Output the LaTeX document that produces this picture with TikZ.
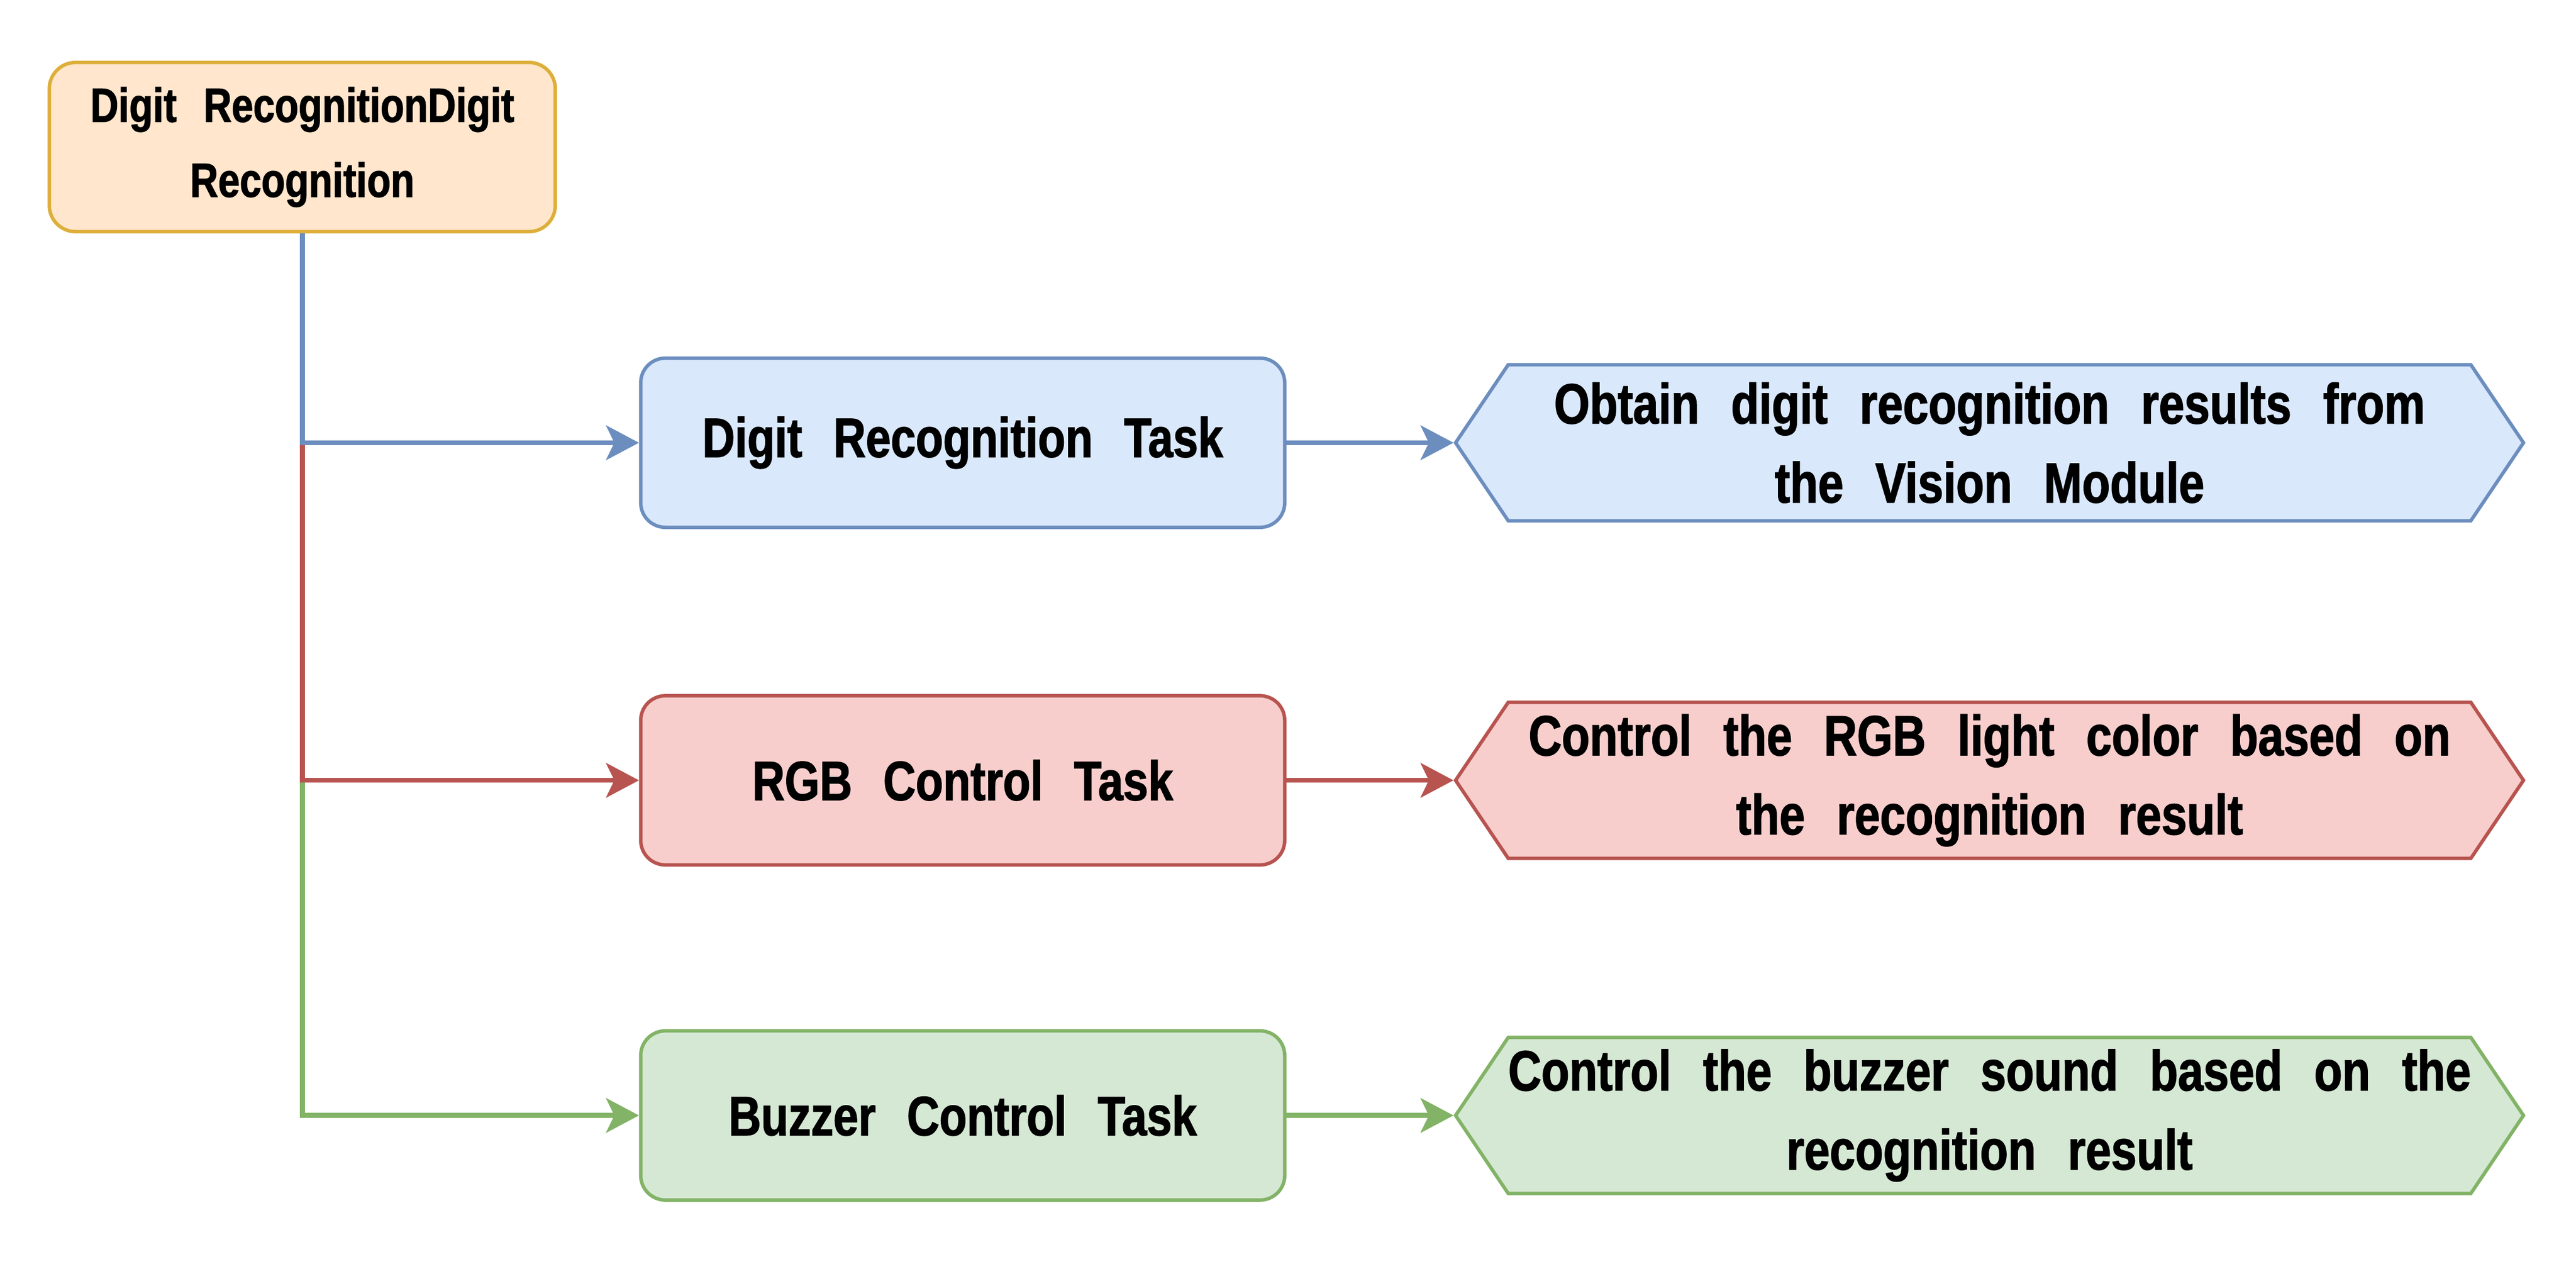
\documentclass[tikz,border=0pt]{standalone}
\usepackage{fontspec}
\setmainfont{Liberation Sans}[FakeStretch=0.81,FakeBold=1.5,WordSpace=2.5]
\usetikzlibrary{arrows.meta,shapes.symbols}

\definecolor{startfill}{HTML}{FFE6CC}
\definecolor{startline}{HTML}{DDAF3A}
\definecolor{bluefill}{HTML}{DAE8FC}
\definecolor{blueline}{HTML}{6C8EBF}
\definecolor{redfill}{HTML}{F8CECC}
\definecolor{redline}{HTML}{B85450}
\definecolor{greenfill}{HTML}{D5E8D4}
\definecolor{greenline}{HTML}{82B366}

\tikzset{
  taskbox/.style={rounded corners=0.15cm, minimum width=3.92cm, minimum height=1.03cm,
    line width=0.6pt, align=center, font=\fontsize{9.6}{13.7}\selectfont\bfseries},
  resbox/.style={signal, signal to=east and west, signal pointer angle=112,
    minimum width=6.5cm, minimum height=0.95cm, inner sep=0pt, line width=0.6pt,
    align=center, font=\fontsize{9.8}{13.7}\selectfont\bfseries},
  blue/.style={draw=blueline, fill=bluefill},
  red/.style={draw=redline, fill=redfill},
  green/.style={draw=greenline, fill=greenfill},
  link/.style={line width=0.85pt, -{Stealth[length=0.2cm,width=0.21cm,inset=0.05cm]}},
}

\begin{document}
\begin{tikzpicture}[y=-1cm]
  \useasboundingbox (0,0) rectangle (15.68,7.755);

  % start
  \node[taskbox, minimum width=3.08cm, rounded corners=0.16cm, draw=startline, fill=startfill,
    font=\fontsize{8.3}{13}\selectfont\bfseries] (start) at (1.84,0.895)
    {\raisebox{-0.4mm}{Digit RecognitionDigit}\\\raisebox{-0.4mm}{Recognition}};

  % tasks
  \node[taskbox, blue]  (task1) at (5.86,2.695) {Digit Recognition Task};
  \node[taskbox, red]   (task2) at (5.86,4.75)  {RGB Control Task};
  \node[taskbox, green] (task3) at (5.86,6.79)  {Buzzer Control Task};

  % results
  \node[resbox, blue]  (res1) at (12.11,2.695) {Obtain digit recognition results from\\the Vision Module};
  \node[resbox, red]   (res2) at (12.11,4.75)  {Control the RGB light color based on\\the recognition result};
  \node[resbox, green] (res3) at (12.11,6.79)  {Control the buzzer sound based on the\\recognition result};

  % links
  \draw[link, greenline] (start.south |- task2.west) |- (task3.west);
  \draw[link, redline] (start.south |- task1.west) |- (task2.west);
  \draw[link, blueline] (start.south) |- (task1.west);

  \draw[link, blueline]  (task1.east) -- (res1.west);
  \draw[link, redline]   (task2.east) -- (res2.west);
  \draw[link, greenline] (task3.east) -- (res3.west);
\end{tikzpicture}
\end{document}
